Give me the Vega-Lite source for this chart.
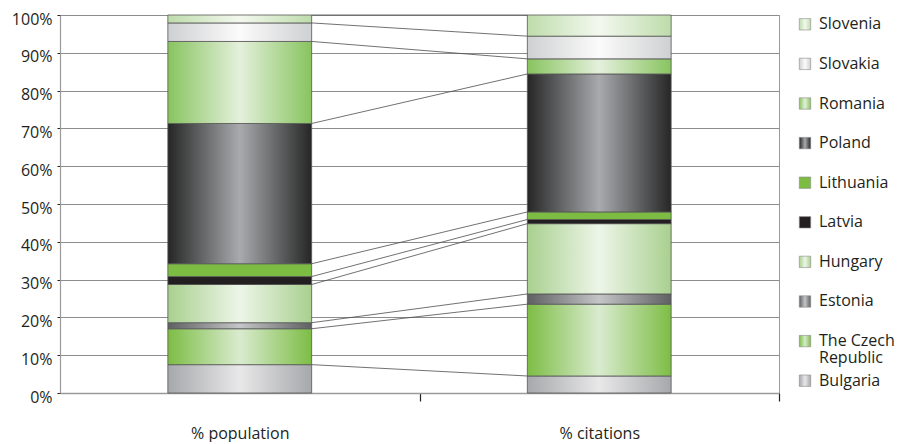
{
  "$schema": "https://vega.github.io/schema/vega-lite/v6.json",
  "padding": {"left": 10, "top": 10, "right": 0, "bottom": 0},
  "bounds": "flush",
  "spacing": 16,
  "background": "white",
  "config": {
    "font": "Open Sans",
    "view": {"stroke": "#9a9a9a", "strokeWidth": 1},
    "axis": {"labelFont": "Open Sans", "labelFontSize": 16, "labelColor": "#231f20", "labelOverlap": false},
    "axisY": {"labelOverlap": false}
  },
  "data": {
    "values": [
      {"country": "Bulgaria", "order": 1, "% population": 7.5, "% citations": 4.5},
      {"country": "The Czech Republic", "order": 2, "% population": 9.5, "% citations": 19.0},
      {"country": "Estonia", "order": 3, "% population": 1.6, "% citations": 2.7},
      {"country": "Hungary", "order": 4, "% population": 10.1, "% citations": 18.6},
      {"country": "Latvia", "order": 5, "% population": 2.1, "% citations": 1.1},
      {"country": "Lithuania", "order": 6, "% population": 3.4, "% citations": 2.0},
      {"country": "Poland", "order": 7, "% population": 37.1, "% citations": 36.5},
      {"country": "Romania", "order": 8, "% population": 21.7, "% citations": 4.0},
      {"country": "Slovakia", "order": 9, "% population": 4.9, "% citations": 6.0},
      {"country": "Slovenia", "order": 10, "% population": 2.1, "% citations": 5.6}
    ]
  },
  "hconcat": [
    {
      "width": 719,
      "height": 378,
      "layer": [
        {
          "transform": [{"fold": ["% population", "% citations"], "as": ["measure", "value"]}],
          "mark": {"type": "bar", "stroke": "#555555", "strokeWidth": 0.8},
          "encoding": {
            "x": {
              "field": "measure",
              "type": "nominal",
              "title": null,
              "scale": {"domain": ["% population", "% citations"], "paddingInner": 0.6, "paddingOuter": 0.3},
              "axis": {
                "labelAngle": 0,
                "tickOffset": 179.75,
                "labelOffset": -179.75,
                "tickSize": 8,
                "tickColor": "#231f20",
                "tickWidth": 1.2,
                "domainColor": "#9a9a9a",
                "domainWidth": 1.5,
                "labelPadding": 24,
                "grid": false
              }
            },
            "y": {
              "field": "value",
              "type": "quantitative",
              "stack": "zero",
              "title": null,
              "scale": {"domain": [0, 100], "nice": false},
              "axis": {
                "values": [0, 10, 20, 30, 40, 50, 60, 70, 80, 90, 100],
                "labelExpr": "datum.value + '%'",
                "labelOverlap": false,
                "tickSize": 3,
                "tickColor": "#231f20",
                "labelPadding": 5,
                "labelOffset": 4,
                "minExtent": 49,
                "maxExtent": 49,
                "grid": true,
                "gridColor": "#8c8c8c",
                "gridWidth": 1,
                "domainColor": "#9a9a9a",
                "domainWidth": 1.2
              }
            },
            "color": {
              "field": "country",
              "type": "nominal",
              "legend": null,
              "scale": {
                "domain": ["Slovenia", "Slovakia", "Romania", "Poland", "Lithuania", "Latvia", "Hungary", "Estonia", "The Czech Republic", "Bulgaria"],
                "range": [
                  {"expr": "{gradient: 'linear', x1: 0, y1: 0, x2: 1, y2: 0, stops: [{offset: 0, color: '#bedcab'}, {offset: 0.5, color: '#f3f8ef'}, {offset: 1, color: '#bedcab'}]}"},
                  {"expr": "{gradient: 'linear', x1: 0, y1: 0, x2: 1, y2: 0, stops: [{offset: 0, color: '#cfd0d2'}, {offset: 0.5, color: '#fbfbfb'}, {offset: 1, color: '#cfd0d2'}]}"},
                  {"expr": "{gradient: 'linear', x1: 0, y1: 0, x2: 1, y2: 0, stops: [{offset: 0, color: '#88c45f'}, {offset: 0.5, color: '#e4f0dc'}, {offset: 1, color: '#88c45f'}]}"},
                  {"expr": "{gradient: 'linear', x1: 0, y1: 0, x2: 1, y2: 0, stops: [{offset: 0, color: '#262626'}, {offset: 0.5, color: '#a8aaad'}, {offset: 1, color: '#262626'}]}"},
                  "#7cbc42",
                  "#231f20",
                  {"expr": "{gradient: 'linear', x1: 0, y1: 0, x2: 1, y2: 0, stops: [{offset: 0, color: '#a9d08f'}, {offset: 0.5, color: '#edf5e8'}, {offset: 1, color: '#a9d08f'}]}"},
                  {"expr": "{gradient: 'linear', x1: 0, y1: 0, x2: 1, y2: 0, stops: [{offset: 0, color: '#5f6062'}, {offset: 0.5, color: '#c4c5c7'}, {offset: 1, color: '#5f6062'}]}"},
                  {"expr": "{gradient: 'linear', x1: 0, y1: 0, x2: 1, y2: 0, stops: [{offset: 0, color: '#7dbd45'}, {offset: 0.5, color: '#d9ebcf'}, {offset: 1, color: '#7dbd45'}]}"},
                  {"expr": "{gradient: 'linear', x1: 0, y1: 0, x2: 1, y2: 0, stops: [{offset: 0, color: '#a7a8ab'}, {offset: 0.5, color: '#e8e8e9'}, {offset: 1, color: '#a7a8ab'}]}"}
                ]
              }
            },
            "order": {"field": "order", "type": "quantitative"}
          }
        },
        {
          "transform": [
            {
              "window": [
                {"op": "sum", "field": "% population", "as": "popTop"},
                {"op": "sum", "field": "% citations", "as": "citTop"}
              ],
              "sort": [{"field": "order", "order": "ascending"}],
              "frame": [null, 0]
            }
          ],
          "mark": {"type": "rule", "color": "#4d4d4d", "strokeWidth": 0.8},
          "encoding": {
            "x": {"datum": "% population", "type": "nominal", "bandPosition": 1, "title": null},
            "x2": {"datum": "% citations", "bandPosition": 0},
            "y": {
              "field": "popTop",
              "type": "quantitative",
              "title": null,
              "axis": {
                "values": [0, 10, 20, 30, 40, 50, 60, 70, 80, 90, 100],
                "labelExpr": "datum.value + '%'",
                "labelOverlap": false,
                "tickSize": 3,
                "tickColor": "#231f20",
                "labelPadding": 5,
                "labelOffset": 4,
                "minExtent": 49,
                "maxExtent": 49,
                "grid": true,
                "gridColor": "#8c8c8c",
                "gridWidth": 1,
                "domainColor": "#9a9a9a",
                "domainWidth": 1.2
              }
            },
            "y2": {"field": "citTop"}
          }
        }
      ]
    },
    {
      "width": 20,
      "height": 375,
      "view": {"stroke": null},
      "layer": [
        {
          "mark": {"type": "square", "size": 130, "filled": true, "opacity": 1, "stroke": "#8a8a8a", "strokeWidth": 0.6},
          "encoding": {
            "y": {
              "field": "country",
              "type": "nominal",
              "scale": {"type": "point", "domain": ["Slovenia", "Slovakia", "Romania", "Poland", "Lithuania", "Latvia", "Hungary", "Estonia", "The Czech Republic", "Bulgaria"], "padding": 0.235},
              "axis": null
            },
            "color": {"field": "country", "type": "nominal", "legend": null}
          }
        },
        {
          "mark": {"type": "text", "align": "left", "dx": 14, "fontSize": 16, "font": "Open Sans", "color": "#231f20"},
          "encoding": {
            "y": {"field": "country", "type": "nominal", "axis": null},
            "text": {
              "condition": {"test": "datum.country === 'The Czech Republic'", "value": "The Czech"},
              "field": "country"
            }
          }
        },
        {
          "transform": [{"filter": "datum.country === 'The Czech Republic'"}],
          "mark": {"type": "text", "align": "left", "dx": 14, "dy": 17, "fontSize": 16, "font": "Open Sans", "color": "#231f20"},
          "encoding": {
            "y": {"field": "country", "type": "nominal", "axis": null},
            "text": {"value": "Republic"}
          }
        }
      ]
    }
  ]
}
